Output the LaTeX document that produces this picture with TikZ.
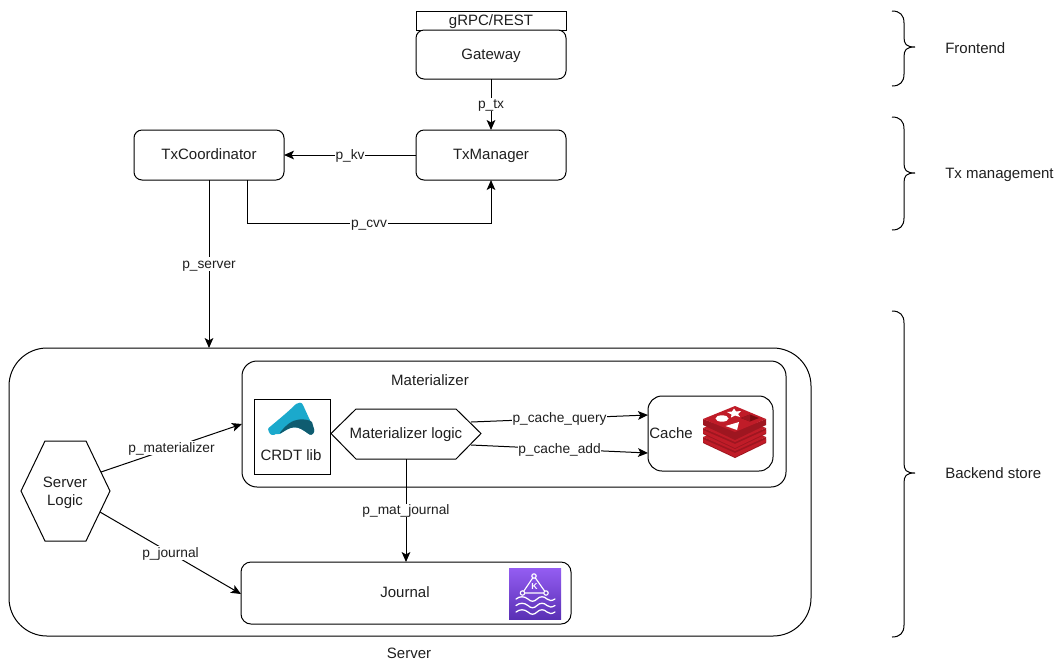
\documentclass[tikz,border=0pt]{standalone}
\usepackage{fontspec}
\setmainfont{Liberation Sans}
\usetikzlibrary{arrows.meta,calc}
\definecolor{ink}{HTML}{000000}
\definecolor{crdtblue}{HTML}{1BA9CC}
\definecolor{crdtdark}{HTML}{0F5C70}
\definecolor{redisA}{HTML}{C01C28}
\definecolor{redisB}{HTML}{9E1620}
\definecolor{redisC}{HTML}{7A0C10}
\definecolor{kafkaT}{HTML}{945DF2}
\definecolor{kafkaB}{HTML}{5A30B5}
\tikzset{
  wh/.style 2 args={minimum width=#1*0.75pt,minimum height=#2*0.75pt,inner sep=0pt,outer sep=0pt},
  box/.style={draw=ink,line width=0.75pt,fill=white},
  rbox/.style={box,rounded corners=#1*0.75pt},
  txt/.style={font=\fontsize{11.25}{13}\selectfont,text=ink!88,inner sep=0pt,text height=8.5pt,text depth=1pt},
  conn/.style={draw=ink,line width=0.75pt,-{Stealth[length=7.5pt,width=6.5pt,inset=1.8pt]}},
  lbl/.style={font=\fontsize{10.3}{12}\selectfont,text=ink!88,fill=white,inner xsep=0.5pt,inner ysep=0.5pt,text height=7.6pt,text depth=1.2pt,pos=0.5},
  hexa/.style={draw=ink,line width=0.75pt,fill=white,line join=miter},
  brace/.style={draw=ink,line width=0.75pt},
  wave/.style={draw=white,line width=0.95pt,line cap=round},
}
\newcommand{\bracepath}[3]{% top, tip, bottom
  \draw[brace] (892,#1) .. controls (900,#1) and (904,{#1+4}) .. (904,{#1+12})
    -- (904,{#2-10}) .. controls (904,{#2-3}) and (906,#2) .. (915,#2)
    .. controls (906,#2) and (904,{#2+3}) .. (904,{#2+10})
    -- (904,{#3-12}) .. controls (904,{#3-4}) and (900,#3) .. (892,#3);}
\begin{document}
\begin{tikzpicture}[x=0.75pt,y=-0.75pt]
\useasboundingbox (0,0) rectangle (1055,662);
% Containers
\node[rbox=38,wh={802}{288}] (server) at (410,492) {};
\node[rbox=15,wh={544}{126}] (mat) at (514,424) {};
\node[rbox=10,wh={330}{62}] (journal) at (406,593) {};
\node[rbox=14,wh={125}{75}] (cache) at (710.5,433.5) {};
\node[box,wh={76}{75}] (crdt) at (292,436.5) {};
% top boxes
\node[box,wh={150}{19}] (grpc) at (491,20.5) {};
\node[rbox=8,wh={150}{49}] (gateway) at (491,54.5) {};
\node[rbox=8,wh={150}{50}] (txm) at (491,155) {};
\node[rbox=8,wh={150}{50}] (txc) at (209,155) {};
% hexagons
\draw[hexa] (331,433.5) -- (356,409) -- (456,409) -- (481,433.5) -- (456,459) -- (356,459) -- cycle;
\draw[hexa] (21,491) -- (45,441) -- (86,441) -- (110,491) -- (86,541) -- (45,541) -- cycle;
% texts
\node[txt] (tgrpc) at (491,20) {gRPC/REST};
\node[txt] (tgateway) at (491,54) {Gateway};
\node[txt] (ttxm) at (491,154) {TxManager};
\node[txt] (ttxc) at (209,154) {TxCoordinator};
\node[txt] (tmat) at (430,380) {Materializer};
\node[txt] (tmlogic) at (406,433) {Materializer logic};
\node[txt] (tsl1) at (65,482) {Server};
\node[txt] (tsl2) at (65,500) {Logic};
\node[txt] (tcrdt) at (291,455.5) {CRDT lib};
\node[txt] (tcache) at (671,433) {Cache};
\node[txt] (tjournal) at (405,592) {Journal};
\node[txt] (tserver) at (409,653) {Server};
\node[txt,anchor=west] (tfront) at (945,48) {Frontend};
\node[txt,anchor=west] (ttx) at (945,173) {Tx management};
\node[txt,anchor=west] (tback) at (945,473) {Backend store};
% connector free ends
\coordinate (cvvS) at (247,180);
\coordinate (cvvA) at (247,223);
\coordinate (cvvB) at (491,223);
\coordinate (srvS) at (209,180);
\coordinate (srvE) at (209,348);
\coordinate (mS) at (101,472);
\coordinate (mE) at (242,424);
\coordinate (jS) at (100,512);
\coordinate (jE) at (241,594);
\coordinate (qS) at (471,422);
\coordinate (qE) at (648,415);
\coordinate (aS) at (471,445);
\coordinate (aE) at (648,453);
\coordinate (mjS) at (406,459);
\coordinate (mjE) at (406,562);
% connectors
\draw[conn] (gateway.south) -- node[lbl] {p\_tx} (txm.north);
\draw[conn] (txm.west) -- node[lbl] {p\_kv} (txc.east);
\draw[conn] (cvvS) -- (cvvA) -- node[lbl] {p\_cvv} (cvvB) -- (txm.south);
\draw[conn] (srvS) -- node[lbl] {p\_server} (srvE);
\draw[conn] (mS) -- node[lbl] {p\_materializer} (mE);
\draw[conn] (jS) -- node[lbl] {p\_journal} (jE);
\draw[conn] (qS) -- node[lbl] {p\_cache\_query} (qE);
\draw[conn] (aS) -- node[lbl] {p\_cache\_add} (aE);
\draw[conn] (mjS) -- node[lbl] {p\_mat\_journal} (mjE);
% braces
\bracepath{11}{47}{86}
\bracepath{117}{173}{230}
\bracepath{311}{473}{637}
% CRDT logo
\fill[crdtblue,line join=round] (268.5,428) .. controls (278,420) and (288,412) .. (296,404)
  .. controls (298,402) and (302,402) .. (303,405)
  -- (314,429) .. controls (315,433) and (312,435) .. (309,434)
  -- (276,434) .. controls (273,436) and (270,435) .. (269,432) .. controls (268,430) and (268,429) .. (268.5,428) -- cycle;
\fill[crdtdark] (280,432.5) .. controls (286,425) and (292,420) .. (299,419.5)
  .. controls (305,419) and (310,420) .. (312,422) -- (314,429)
  .. controls (315,433) and (312,436) .. (309,434.5)
  .. controls (304,431) and (299,427) .. (294,427.5)
  .. controls (289,428) and (285,431) .. (281,433.5) -- cycle;
\fill[white] (281,433.5) .. controls (285,431) and (289,428) .. (294,427.5)
  .. controls (299,427) and (304,431) .. (309,434.5) -- (309,436) -- (276,436) -- cycle;
% Redis logo: three layers
\foreach \dy in {18,9}{
  \fill[redisB] (703,{419+\dy}) -- (703,{425+\dy}) -- (735,{440+\dy}) -- (766,{425+\dy}) -- (766,{419+\dy}) -- (735,{431+\dy}) -- cycle;
  \fill[redisA] (703,{424+\dy}) -- (703,{421+\dy}) -- (735,{435+\dy}) -- (766,{421+\dy}) -- (766,{424+\dy}) -- (735,{439+\dy}) -- cycle;
  \fill[redisA] (703,{419+\dy}) -- (735,{406+\dy}) -- (766,{419+\dy}) -- (735,{433+\dy}) -- cycle;
}
\fill[redisB] (703,419) -- (703,425) -- (735,440) -- (766,425) -- (766,419) -- (735,431) -- cycle;
\fill[redisA] (703,419) -- (735,406) -- (766,419) -- (735,432) -- cycle;
\fill[white] (722,418.5) ellipse [x radius=6.5,y radius=3.2];
\fill[white] (734,408.5) -- (736,411.5) -- (741,411) -- (738,414) -- (740,417) -- (735,415.5) -- (731,417.5) -- (731.5,414.5) -- (727,412) -- (732,411.5) -- cycle;
\fill[white] (725.5,426) -- (739,422) -- (737,430) -- cycle;
\fill[redisC] (741,418) -- (750,414.5) -- (759,418) -- (750,421.5) -- cycle;
\fill[redisB] (741,418) -- (750,421.5) -- (750,414.5) -- cycle;
% Kafka icon
\shade[top color=kafkaT,bottom color=kafkaB] (509,568) rectangle (561,619);
\draw[white,line width=0.85pt] (534,576) -- (546,593) -- (522.5,593) -- cycle;
\filldraw[draw=white,fill=kafkaT,line width=0.85pt] (534,576) circle [radius=2.2];
\filldraw[draw=white,fill=kafkaB!60!kafkaT,line width=0.85pt] (522.5,593) circle [radius=2.2];
\filldraw[draw=white,fill=kafkaB!60!kafkaT,line width=0.85pt] (546,593) circle [radius=2.2];
\node[text=white,inner sep=0pt,font=\fontsize{6.5}{7}\bfseries\selectfont] (kk) at (534.5,587) {K};
\foreach \wy in {599,605.5,612}{
  \draw[wave] (516,\wy) .. controls (520,{\wy-3}) and (524,{\wy-3}) .. (528,\wy)
    .. controls (531,{\wy+3}) and (534,{\wy+3}) .. (537,\wy)
    .. controls (540,{\wy-3}) and (544,{\wy-3}) .. (547,\wy)
    .. controls (549,{\wy+2}) and (552,{\wy+2}) .. (555,\wy);
}
\end{tikzpicture}
\end{document}
